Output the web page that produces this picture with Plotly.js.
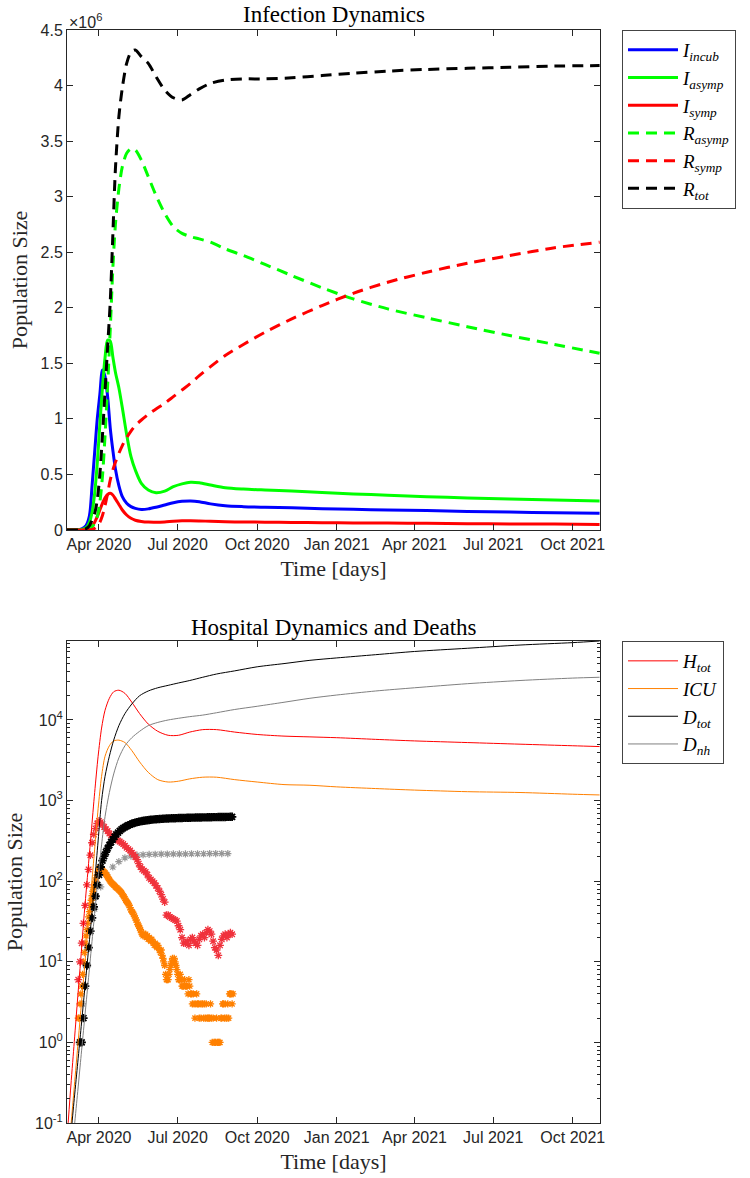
<!DOCTYPE html>
<html><head><meta charset="utf-8">
<script src="https://cdn.plot.ly/plotly-3.0.1.min.js"></script>
<style>html,body{margin:0;padding:0;background:#fff}</style>
</head><body><div id="chart" style="width:750px;height:1178px"></div>
<script>
// ---------- Top panel: infection dynamics (persons) ----------
const topDates = ['2020-02-24','2020-03-05','2020-03-12','2020-03-17','2020-03-21','2020-03-24','2020-03-27','2020-03-30','2020-04-02','2020-04-05','2020-04-08','2020-04-11','2020-04-14','2020-04-17','2020-04-20','2020-04-24','2020-04-28','2020-05-03','2020-05-08','2020-05-13','2020-05-20','2020-05-28','2020-06-06','2020-06-16','2020-06-26','2020-07-06','2020-07-16','2020-07-26','2020-08-08','2020-08-25','2020-09-15','2020-10-10','2020-11-10','2020-12-15','2021-01-20','2021-03-01','2021-04-15','2021-06-01','2021-07-20','2021-09-10','2021-11-01'];
const iIncub = [0,0.002e6,0.01e6,0.04e6,0.13e6,0.4e6,0.7e6,1.0e6,1.22e6,1.44e6,1.38e6,1.2e6,0.92e6,0.72e6,0.55e6,0.4e6,0.3e6,0.24e6,0.21e6,0.195e6,0.185e6,0.19e6,0.205e6,0.225e6,0.245e6,0.258e6,0.262e6,0.255e6,0.235e6,0.218e6,0.21e6,0.205e6,0.2e6,0.192e6,0.186e6,0.18e6,0.175e6,0.167e6,0.161e6,0.156e6,0.151e6];
const iAsymp = [0,0.001e6,0.005e6,0.02e6,0.07e6,0.16e6,0.33e6,0.6e6,0.95e6,1.28e6,1.55e6,1.71e6,1.7e6,1.56e6,1.42e6,1.28e6,1.1e6,0.86e6,0.66e6,0.54e6,0.42e6,0.36e6,0.335e6,0.35e6,0.39e6,0.415e6,0.43e6,0.425e6,0.405e6,0.38e6,0.368e6,0.36e6,0.352e6,0.338e6,0.325e6,0.313e6,0.3e6,0.289e6,0.279e6,0.27e6,0.262e6];
const iSymp = [0,0,0.001e6,0.005e6,0.015e6,0.035e6,0.07e6,0.12e6,0.18e6,0.24e6,0.29e6,0.32e6,0.33e6,0.315e6,0.28e6,0.23e6,0.18e6,0.135e6,0.105e6,0.088e6,0.077e6,0.071e6,0.07e6,0.073e6,0.079e6,0.083e6,0.084e6,0.082e6,0.078e6,0.074e6,0.072e6,0.07e6,0.068e6,0.066e6,0.064e6,0.062e6,0.06e6,0.057e6,0.055e6,0.053e6,0.05e6];
const rAsymp = [0,0,0.001e6,0.004e6,0.012e6,0.03e6,0.06e6,0.12e6,0.25e6,0.48e6,0.85e6,1.3e6,1.8e6,2.35e6,2.75e6,3.07e6,3.27e6,3.39e6,3.43e6,3.42e6,3.33e6,3.18e6,3.01e6,2.85e6,2.73e6,2.67e6,2.64e6,2.62e6,2.59e6,2.53e6,2.47e6,2.39e6,2.29e6,2.18e6,2.08e6,1.99e6,1.91e6,1.83e6,1.75e6,1.67e6,1.59e6];
const rSymp = [0,0,0,0,0.002e6,0.006e6,0.015e6,0.035e6,0.07e6,0.13e6,0.22e6,0.33e6,0.45e6,0.54e6,0.61e6,0.69e6,0.76e6,0.83e6,0.89e6,0.94e6,0.99e6,1.04e6,1.09e6,1.14e6,1.2e6,1.26e6,1.32e6,1.39e6,1.47e6,1.57e6,1.67e6,1.78e6,1.9e6,2.02e6,2.13e6,2.23e6,2.32e6,2.4e6,2.47e6,2.54e6,2.59e6];
const rTot = [0,0,0.003e6,0.012e6,0.04e6,0.09e6,0.15e6,0.27e6,0.5e6,0.85e6,1.25e6,1.65e6,2.05e6,2.65e6,3.25e6,3.72e6,3.98e6,4.2e6,4.3e6,4.32e6,4.26e6,4.2e6,4.08e6,3.96e6,3.89e6,3.87e6,3.92e6,3.97e6,4.02e6,4.05e6,4.06e6,4.06e6,4.07e6,4.09e6,4.11e6,4.13e6,4.145e6,4.155e6,4.165e6,4.175e6,4.18e6];
const topYTicks = [0,0.5e6,1e6,1.5e6,2e6,2.5e6,3e6,3.5e6,4e6,4.5e6];
const topYLabels = ['0','0.5','1','1.5','2','2.5','3','3.5','4','4.5'];

// ---------- Bottom panel: hospital dynamics and deaths ----------
const botDates = ['2020-02-24','2020-02-28','2020-03-03','2020-03-07','2020-03-11','2020-03-15','2020-03-19','2020-03-23','2020-03-27','2020-03-31','2020-04-04','2020-04-08','2020-04-13','2020-04-18','2020-04-24','2020-05-01','2020-05-09','2020-05-18','2020-05-28','2020-06-08','2020-06-20','2020-07-02','2020-07-15','2020-07-30','2020-08-15','2020-09-05','2020-10-01','2020-11-01','2020-12-01','2021-01-01','2021-02-15','2021-04-01','2021-06-01','2021-08-01','2021-10-01','2021-11-01'];
const hTot = [0.063,0.25,0.89,3.2,11,40,126,400,1260,3550,7940,13200,18600,22400,23400,21400,16600,12000,8900,7240,6460,6460,7080,7590,7590,7080,6610,6310,6170,6030,5750,5500,5250,5010,4790,4680];
const icu = [0.025,0.079,0.25,0.79,2.5,7.9,25,79,250,794,2000,3550,4790,5500,5620,5250,4170,3020,2240,1820,1700,1740,1860,1950,1950,1820,1700,1580,1550,1480,1410,1350,1290,1260,1200,1175];
const dTot = [0.025,0.063,0.18,0.5,1.41,4.0,11.2,31.6,100,316,1000,2000,3550,5620,8510,12000,15800,20000,22900,25100,26900,28800,30900,33900,37200,40700,45700,50100,55000,58900,64600,70800,77600,85100,91200,95500];
const dNh = [0.01,0.028,0.079,0.22,0.63,1.78,5.0,14.1,40,112,282,631,1260,2140,3390,4790,6030,7240,8510,9330,10000,10500,11000,11500,12300,13500,14800,16600,18600,20400,22900,25100,28200,30900,33100,33900];

// observed data
const hObsStart = '2020-03-08', hObsStepDays = 2;
const hObs = [6,10,17,30,50,90,140,210,300,380,450,520,560,540,510,470,440,420,390,370,355,345,330,320,310,300,290,275,260,250,240,225,215,200,185,165,150,140,135,130,120,110,105,100,95,88,82,75,68,60,55,38,38,36,35,34,33,32,28,25,20,17,17,18,16,19,20,18,17,16,19,21,22,20,23,25,24,22,18,15,14,12,16,19,21,22,20,22,23,22];
const icuObsStart = '2020-03-08', icuObsStepDays = 1;
const icuObs = [2,2,3,4,5,7,10,13,17,21,25,30,36,42,50,58,66,75,84,92,100,110,120,132,142,148,145,140,138,133,130,127,122,118,113,108,104,100,97,94,92,90,88,85,83,82,80,78,76,74,72,69,66,64,61,58,56,54,52,50,47,44,42,41,39,37,35,33,31,29,28,26,25,23,22,21,22,21,22,20,21,19,20,19,18,19,18,17,16,17,16,15,16,15,14,13,14,12,11,10,9,7,6,6,6,7,8,9,10,11,10,11,10,9,8,7,6,6,7,6,5,5,5,6,5,5,5,4,6,5,4,4,3,4,3,2,3,4,3,3,2,3,2,3,3,2,3,2,3,2,2,2,2,3,2,1,2,1,1,1,2,1,1,1,1,2,2,3,3,2,3,2,2,3,2,4,4,4,3,4];
const dObsStart = '2020-03-10', dObsStepDays = 2;
const dObs = [1,1,2,5,9,15,24,35,48,65,90,120,150,180,205,230,255,280,305,330,355,380,400,420,440,455,470,482,495,505,515,525,533,540,547,553,558,563,567,571,575,578,581,584,587,589,591,593,595,597,599,600,602,603,604,605,606,607,608,609,610,611,612,613,613,614,615,616,617,617,618,619,620,620,621,622,622,623,624,624,625,626,626,627,627,628,628,629,629];
const dNhObsStart = '2020-03-13', dNhObsStepDays = 7;
const dNhObs = [3,15,45,85,120,150,175,195,205,210,213,215,216,217,217,218,218,218,219,219,219,220,220,220,220];

const botYTicks = [0.1,1,10,100,1000,10000];
const botYLabels = ['10<sup>-1</sup>','10<sup>0</sup>','10<sup>1</sup>','10<sup>2</sup>','10<sup>3</sup>','10<sup>4</sup>'];

// shared x axis ticks
const xRange = ['2020-02-24','2021-11-01 12:00'];
const xTickDates = ['2020-04-01','2020-07-01','2020-10-01','2021-01-01','2021-04-01','2021-07-01','2021-10-01'];
const xTickLabels = ['Apr 2020','Jul 2020','Oct 2020','Jan 2021','Apr 2021','Jul 2021','Oct 2021'];

// ---------- build ----------
const SERIF = 'Liberation Serif, Times New Roman, serif';
const SANS = 'Liberation Sans, Arial, sans-serif';
const DAY = 86400000;
const sp = {shape:'spline', smoothing:0.8};

function topLine(y, name, color, dash) {
  return {x: topDates, y: y, name: name, type:'scatter', mode:'lines', xaxis:'x', yaxis:'y', legend:'legend',
    line: Object.assign({color: color, width: 3, dash: dash || 'solid'}, sp)};
}
function botLine(y, name, color) {
  return {x: botDates, y: y, name: name, type:'scatter', mode:'lines', xaxis:'x2', yaxis:'y2', legend:'legend2',
    line: Object.assign({color: color, width: 1}, sp)};
}
function obs(y, start, stepDays, color, size, lw) {
  return {y: y, x0: start, dx: stepDays * DAY, type:'scatter', mode:'markers', xaxis:'x2', yaxis:'y2', showlegend:false, hoverinfo:'skip',
    marker: {symbol:'asterisk-open', size: size, color: color, line: {color: color, width: lw}}};
}

const DASH = '11px,7px';
const data = [
  topLine(iIncub, '<i>I</i><sub><i>incub</i></sub>', 'rgb(0,0,255)'),
  topLine(iAsymp, '<i>I</i><sub><i>asymp</i></sub>', 'rgb(0,255,0)'),
  topLine(iSymp, '<i>I</i><sub><i>symp</i></sub>', 'rgb(255,0,0)'),
  topLine(rAsymp, '<i>R</i><sub><i>asymp</i></sub>', 'rgb(0,255,0)', DASH),
  topLine(rSymp, '<i>R</i><sub><i>symp</i></sub>', 'rgb(255,0,0)', DASH),
  topLine(rTot, '<i>R</i><sub><i>tot</i></sub>', 'rgb(0,0,0)', DASH),
  obs(dNhObs, dNhObsStart, dNhObsStepDays, 'rgb(150,150,150)', 6, 1.2),
  obs(icuObs, icuObsStart, icuObsStepDays, 'rgb(255,128,0)', 6, 1.3),
  obs(hObs, hObsStart, hObsStepDays, 'rgb(240,50,60)', 6.5, 1.3),
  obs(dObs, dObsStart, dObsStepDays, 'rgb(0,0,0)', 7, 1.8),
  botLine(hTot, '<i>H</i><sub><i>tot</i></sub>', 'rgb(255,0,0)'),
  botLine(icu, '<i>ICU</i>', 'rgb(255,128,0)'),
  botLine(dTot, '<i>D</i><sub><i>tot</i></sub>', 'rgb(0,0,0)'),
  botLine(dNh, '<i>D</i><sub><i>nh</i></sub>', 'rgb(128,128,128)')
];

const AX = '#262626';
function xAxis(anchor) {
  return {anchor: anchor, type:'date', range: xRange, tickvals: xTickDates, ticktext: xTickLabels,
    ticks:'inside', ticklen:6, tickcolor: AX, tickwidth:1, showline:true, linecolor: AX, linewidth:1, mirror:'allticks',
    showgrid:false, zeroline:false, tickfont:{family:SANS, size:16, color:AX},
    title:{text:'Time [days]', font:{family:SERIF, size:22, color:AX}, standoff:8}};
}
const minorVals = [];
for (let e = -1; e <= 4; e++) for (let m = 2; m <= 9; m++) minorVals.push(m * Math.pow(10, e));

const H = 1178, T = 30, B = 55, PH = H - T - B;
function py(pix) { return (H - B - pix) / PH; }

const legendBase = {x: (622-67)/533, xanchor:'left', yanchor:'top', bgcolor:'#fff', bordercolor:'#444', borderwidth:1,
  font:{family:SERIF, size:19, color:'#000'}, itemwidth:50, tracegroupgap:0};

const layout = {
  width: 750, height: H,
  margin: {l: 67, r: 150, t: T, b: B},
  paper_bgcolor:'#fff', plot_bgcolor:'#fff',
  font: {family: SANS, size: 16, color: AX},
  showlegend: true,
  xaxis: xAxis('y'),
  xaxis2: xAxis('y2'),
  yaxis: {anchor:'x', domain:[py(530), 1], range:[0, 4.5e6], tickvals: topYTicks, ticktext: topYLabels,
    ticks:'inside', ticklen:6, tickcolor:AX, showline:true, linecolor:AX, linewidth:1, mirror:'allticks',
    showgrid:false, zeroline:false, tickfont:{family:SANS, size:16, color:AX},
    title:{text:'Population Size', font:{family:SERIF, size:22, color:AX}, standoff:6}},
  yaxis2: {anchor:'x2', domain:[0, py(641)], type:'log', range:[-1, Math.log10(95500)], tickvals: botYTicks, ticktext: botYLabels,
    ticks:'inside', ticklen:6, tickcolor:AX, showline:true, linecolor:AX, linewidth:1, mirror:'allticks',
    showgrid:false, zeroline:false, tickfont:{family:SANS, size:16, color:AX},
    minor:{tickvals: minorVals, ticks:'inside', ticklen:3, tickcolor:AX, showgrid:false},
    title:{text:'Population Size', font:{family:SERIF, size:22, color:AX}, standoff:6}},
  legend: Object.assign({}, legendBase, {y: 1}),
  legend2: Object.assign({}, legendBase, {y: py(641)}),
  annotations: [
    {text:'Infection Dynamics', xref:'paper', yref:'paper', x:0.5, y:py(14), xanchor:'center', yanchor:'middle', showarrow:false,
      font:{family:SERIF, size:23, color:'#000'}},
    {text:'Hospital Dynamics and Deaths', xref:'paper', yref:'paper', x:0.5, y:py(627), xanchor:'center', yanchor:'middle', showarrow:false,
      font:{family:SERIF, size:23, color:'#000'}},
    {text:'\u00d710<sup>6</sup>', xref:'paper', yref:'paper', x:0, y:py(21), xanchor:'left', yanchor:'middle', showarrow:false,
      font:{family:SANS, size:16, color:AX}}
  ]
};

Plotly.newPlot('chart', data, layout, {staticPlot:true, displayModeBar:false});
</script></body></html>
